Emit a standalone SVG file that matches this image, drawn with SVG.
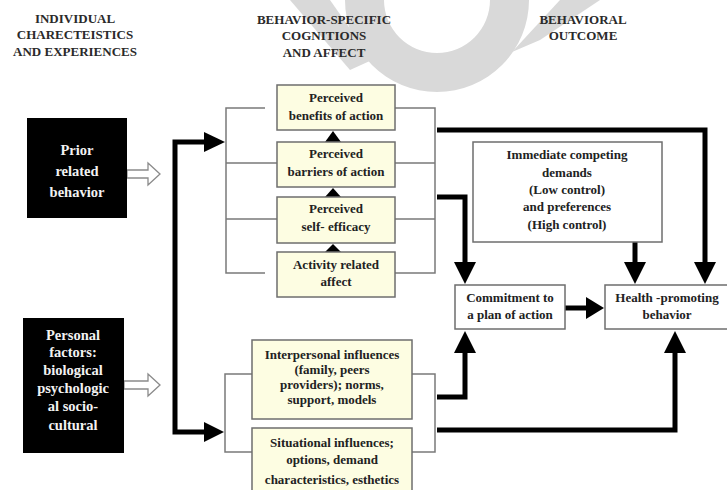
<svg xmlns="http://www.w3.org/2000/svg" width="727" height="490" viewBox="0 0 727 490">
  <style>
    .hdr { font-family: "Liberation Serif", "Times New Roman", serif; font-size: 13px; font-weight: bold; fill: #2a2a2a; text-anchor: middle; }
    .txt { font-family: "Liberation Serif", "Times New Roman", serif; font-size: 13px; font-weight: bold; fill: #222; text-anchor: middle; }
    .wtxt { font-family: "Liberation Serif", "Times New Roman", serif; font-size: 14.5px; font-weight: bold; fill: #f2f2f2; text-anchor: middle; }
    .dark { fill: #000; }
    .ybox { fill: #fdfde2; stroke: #6e6e6e; stroke-width: 1.5; }
    .wbox { fill: #fff; stroke: #6e6e6e; stroke-width: 1.5; }
    .bracket { fill: none; stroke: #7a7a7a; stroke-width: 1.5; }
    .thick { fill: none; stroke: #000; stroke-width: 5; stroke-linejoin: miter; }
    .head { fill: #000; }
    .hollow { fill: #fff; stroke: #8a8a8a; stroke-width: 1.3; }
    .mark { fill: #d9d9d9; }
  </style>

  <rect width="727" height="490" fill="#fff"/>

  <!-- faint background logo -->
  <g id="logo">
    <path class="mark" d="M345,0 A92,92 0 0 0 529,0 L490,0 A53,53 0 0 1 384,0 Z"/>
    <path class="mark" d="M512,52 L560,0 L600,0 L540,40 Z"/>
    <path class="mark" d="M290,0 L330,0 L372,60 L350,70 Z"/>
  </g>

  <!-- column headings -->
  <g id="headings">
    <text class="hdr" x="75" y="23">INDIVIDUAL</text>
    <text class="hdr" x="75" y="39">CHARECTEISTICS</text>
    <text class="hdr" x="75" y="56">AND EXPERIENCES</text>
    <text class="hdr" x="324" y="24">BEHAVIOR-SPECIFIC</text>
    <text class="hdr" x="324" y="40">COGNITIONS</text>
    <text class="hdr" x="324" y="57">AND AFFECT</text>
    <text class="hdr" x="583" y="24">BEHAVIORAL</text>
    <text class="hdr" x="583" y="40">OUTCOME</text>
  </g>

  <!-- connectors -->
  <g id="connectors">
    <!-- hollow arrows from the individual factors -->
    <path class="hollow" d="M127,170 H148 V163 L160,174 L148,185 V178 H127 Z"/>
    <path class="hollow" d="M124,381 H148 V374 L160,385 L148,396 V389 H124 Z"/>

    <!-- brackets around the cognition boxes -->
    <path class="bracket" d="M265,108 H226 V273 H265 M226,163 H277 M226,219 H277"/>
    <path class="bracket" d="M395,108 H435 V273 H395 M395,163 H435 M395,219 H435"/>
    <path class="bracket" d="M252,374 H225 V452 H252"/>
    <path class="bracket" d="M412,374 H435 V452 H412"/>

    <!-- small arrowheads between stacked boxes -->
    <polygon class="head" points="325,142 341,142 333,131"/>
    <polygon class="head" points="325,197 341,197 333,188"/>
    <polygon class="head" points="325,252 341,252 333,244"/>

    <!-- thick feed line into both groups -->
    <path class="thick" d="M206,142 H175 V432 H206"/>
    <polygon class="head" points="204,132 225,142 204,152"/>
    <polygon class="head" points="204,422 224,432 204,442"/>

    <!-- cognitions to outcomes -->
    <path class="thick" d="M437,130 H705 V264"/>
    <polygon class="head" points="694,262 716,262 705,284"/>
    <path class="thick" d="M437,197 H465 V264"/>
    <polygon class="head" points="454,262 476,262 465,284"/>
    <path class="thick" d="M635,242 V264"/>
    <polygon class="head" points="624,262 646,262 635,284"/>

    <!-- commitment to behavior -->
    <path class="thick" d="M565,308 H588"/>
    <polygon class="head" points="586,297 604,308 586,319"/>

    <!-- influences to outcomes -->
    <path class="thick" d="M437,397 H465 V351"/>
    <polygon class="head" points="454,353 476,353 465,331"/>
    <path class="thick" d="M437,430 H675 V351"/>
    <polygon class="head" points="664,353 686,353 675,331"/>
  </g>

  <!-- individual characteristics -->
  <g id="prior-behavior">
    <rect class="dark" x="27" y="118" width="100" height="100"/>
    <text class="wtxt" x="77" y="155">Prior</text>
    <text class="wtxt" x="77" y="176">related</text>
    <text class="wtxt" x="77" y="197">behavior</text>
  </g>
  <g id="personal-factors">
    <rect class="dark" x="23" y="318" width="101" height="135"/>
    <text class="wtxt" x="73" y="340">Personal</text>
    <text class="wtxt" x="73" y="357">factors:</text>
    <text class="wtxt" x="73" y="375">biological</text>
    <text class="wtxt" x="73" y="393">psychologic</text>
    <text class="wtxt" x="73" y="411">al socio-</text>
    <text class="wtxt" x="73" y="430">cultural</text>
  </g>

  <!-- behavior-specific cognitions -->
  <g id="benefits">
    <rect class="ybox" x="277" y="85" width="118" height="45"/>
    <text class="txt" x="336" y="102">Perceived</text>
    <text class="txt" x="336" y="120">benefits of action</text>
  </g>
  <g id="barriers">
    <rect class="ybox" x="277" y="142" width="118" height="45"/>
    <text class="txt" x="336" y="158">Perceived</text>
    <text class="txt" x="336" y="176">barriers of action</text>
  </g>
  <g id="self-efficacy">
    <rect class="ybox" x="277" y="197" width="118" height="46"/>
    <text class="txt" x="336" y="213">Perceived</text>
    <text class="txt" x="336" y="231">self- efficacy</text>
  </g>
  <g id="activity-affect">
    <rect class="ybox" x="277" y="252" width="118" height="45"/>
    <text class="txt" x="336" y="269">Activity related</text>
    <text class="txt" x="336" y="286">affect</text>
  </g>
  <g id="interpersonal">
    <rect class="ybox" x="252" y="340" width="160" height="79"/>
    <text class="txt" x="332" y="359">Interpersonal influences</text>
    <text class="txt" x="332" y="374">(family, peers</text>
    <text class="txt" x="332" y="389">providers); norms,</text>
    <text class="txt" x="332" y="404">support, models</text>
  </g>
  <g id="situational">
    <rect class="ybox" x="252" y="428" width="160" height="66"/>
    <text class="txt" x="332" y="447">Situational influences;</text>
    <text class="txt" x="332" y="464">options, demand</text>
    <text class="txt" x="332" y="484">characteristics, esthetics</text>
  </g>

  <!-- behavioral outcome -->
  <g id="competing-demands">
    <rect class="wbox" x="473" y="142" width="189" height="100"/>
    <text class="txt" x="567" y="159">Immediate competing</text>
    <text class="txt" x="567" y="177">demands</text>
    <text class="txt" x="567" y="194">(Low control)</text>
    <text class="txt" x="567" y="211">and preferences</text>
    <text class="txt" x="567" y="229">(High control)</text>
  </g>
  <g id="commitment">
    <rect class="wbox" x="455" y="285" width="110" height="44"/>
    <text class="txt" x="510" y="302">Commitment to</text>
    <text class="txt" x="510" y="319">a plan of action</text>
  </g>
  <g id="health-behavior">
    <rect class="wbox" x="605" y="285" width="126" height="44"/>
    <text class="txt" x="667" y="302">Health -promoting</text>
    <text class="txt" x="667" y="319">behavior</text>
  </g>
</svg>
